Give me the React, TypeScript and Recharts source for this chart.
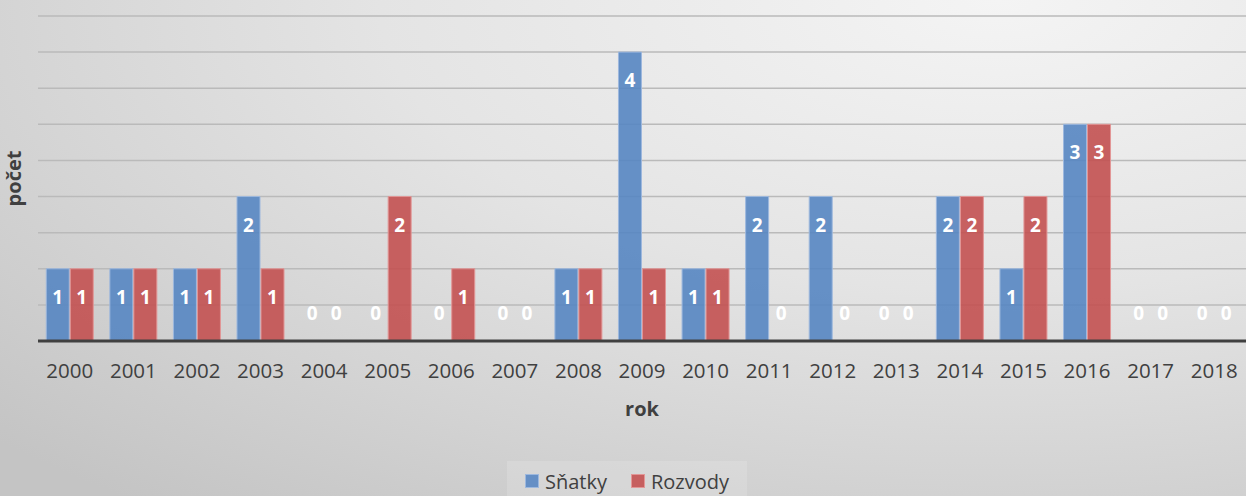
import {
  Bar,
  BarChart,
  LabelList,
  Legend,
  Rectangle,
  ReferenceLine,
  XAxis,
  YAxis,
} from "recharts";

const years = [
  "2000", "2001", "2002", "2003", "2004", "2005", "2006", "2007", "2008", "2009",
  "2010", "2011", "2012", "2013", "2014", "2015", "2016", "2017", "2018",
];
const snatky = [1, 1, 1, 2, 0, 0, 0, 0, 1, 4, 1, 2, 2, 0, 2, 1, 3, 0, 0];
const rozvody = [1, 1, 1, 1, 0, 2, 1, 0, 1, 1, 1, 0, 0, 0, 2, 2, 3, 0, 0];
const yTicks = [0.5, 1, 1.5, 2, 2.5, 3, 3.5, 4, 4.5];

const data = years.map((rok, i) => ({
  rok,
  "Sňatky": snatky[i],
  Rozvody: rozvody[i],
}));

const FONT = "'Open Sans', 'Liberation Sans', sans-serif";
const BLUE = "#5786c2";
const RED = "#c35151";

// hodnoty uvnitř sloupců, nuly nad osou
const ValueLabel = (props: any) => {
  const { x, y, width, value } = props;
  const zero = Number(value) === 0;
  const ty = zero ? Number(y) - 27 : Number(y) + 28;
  return (
    <text
      x={Number(x) + Number(width) / 2}
      y={ty}
      textAnchor="middle"
      dominantBaseline="central"
      fill="#ffffff"
      fontFamily={FONT}
      fontWeight={700}
      fontSize={19}
    >
      {value}
    </text>
  );
};

const makeShape = (key: string) => (props: any) => {
  if (!props.payload || props.payload[key] === 0) return <g />;
  return <Rectangle {...props} />;
};

const LegendContent = () => (
  <div
    style={{
      display: "flex",
      justifyContent: "center",
      paddingTop: 40,
      fontFamily: FONT,
      fontSize: 20,
      color: "#404040",
    }}
  >
    <div
      style={{
        display: "flex",
        alignItems: "center",
        gap: 6,
        height: 40,
        background: "rgba(255,255,255,0.15)",
        padding: "0 18px 0 18px",
        marginLeft: 8,
      }}
    >
      <span style={{ width: 12, height: 12, background: "#658fc5", border: "1px solid #9db8de", display: "inline-block" }} />
      <span style={{ marginRight: 18 }}>Sňatky</span>
      <span style={{ width: 12, height: 12, background: "#c65f5f", border: "1px solid #e29696", display: "inline-block" }} />
      <span>Rozvody</span>
    </div>
  </div>
);

export default function App() {
  return (
    <div
      style={{
        position: "absolute",
        left: 0,
        top: 0,
        width: 1246,
        height: 496,
        background:
          "radial-gradient(ellipse 110% 130% at 80% 0%, #f4f4f4 0%, #e4e4e4 45%, #d3d3d3 75%, #c4c4c4 100%)",
      }}
    >
      <BarChart
        width={1246}
        height={496}
        data={data}
        margin={{ top: 16, right: 0, left: 0, bottom: 0 }}
        barCategoryGap="13%"
        barGap={1}
      >
        <YAxis
          width={38}
          domain={[0, 4.5]}
          ticks={yTicks}
          tick={false}
          axisLine={false}
          tickLine={false}
          label={{
            value: "počet",
            angle: -90,
            position: "center",
            dx: -5,
            fill: "#404040",
            fontFamily: FONT,
            fontWeight: 700,
            fontSize: 20,
          }}
        />
        <XAxis
          dataKey="rok"
          height={80}
          interval={0}
          tickLine={false}
          tickSize={0}
          tickMargin={22}
          axisLine={{ stroke: "#404040", strokeWidth: 3 }}
          tick={{ fill: "#404040", fontFamily: FONT, fontSize: 20.5 }}
          label={{
            value: "rok",
            position: "insideBottom",
            offset: 5,
            fill: "#404040",
            fontFamily: FONT,
            fontWeight: 700,
            fontSize: 20,
          }}
        />
        {yTicks.map((v) => (
          <ReferenceLine
            key={v}
            y={v}
            stroke="#bababa"
            strokeWidth={1.5}
            ifOverflow="extendDomain"
            {...({ zIndex: -1 } as any)}
          />
        ))}
        <Legend verticalAlign="bottom" height={75} content={<LegendContent />} />
        <Bar
          dataKey="Sňatky"
          fill={BLUE}
          fillOpacity={0.9}
          stroke="#9db8de"
          strokeWidth={1}
          minPointSize={1}
          shape={makeShape("Sňatky")}
          isAnimationActive={false}
        >
          <LabelList dataKey="Sňatky" content={<ValueLabel />} />
        </Bar>
        <Bar
          dataKey="Rozvody"
          fill={RED}
          fillOpacity={0.9}
          stroke="#e29696"
          strokeWidth={1}
          minPointSize={1}
          shape={makeShape("Rozvody")}
          isAnimationActive={false}
        >
          <LabelList dataKey="Rozvody" content={<ValueLabel />} />
        </Bar>
      </BarChart>
    </div>
  );
}
